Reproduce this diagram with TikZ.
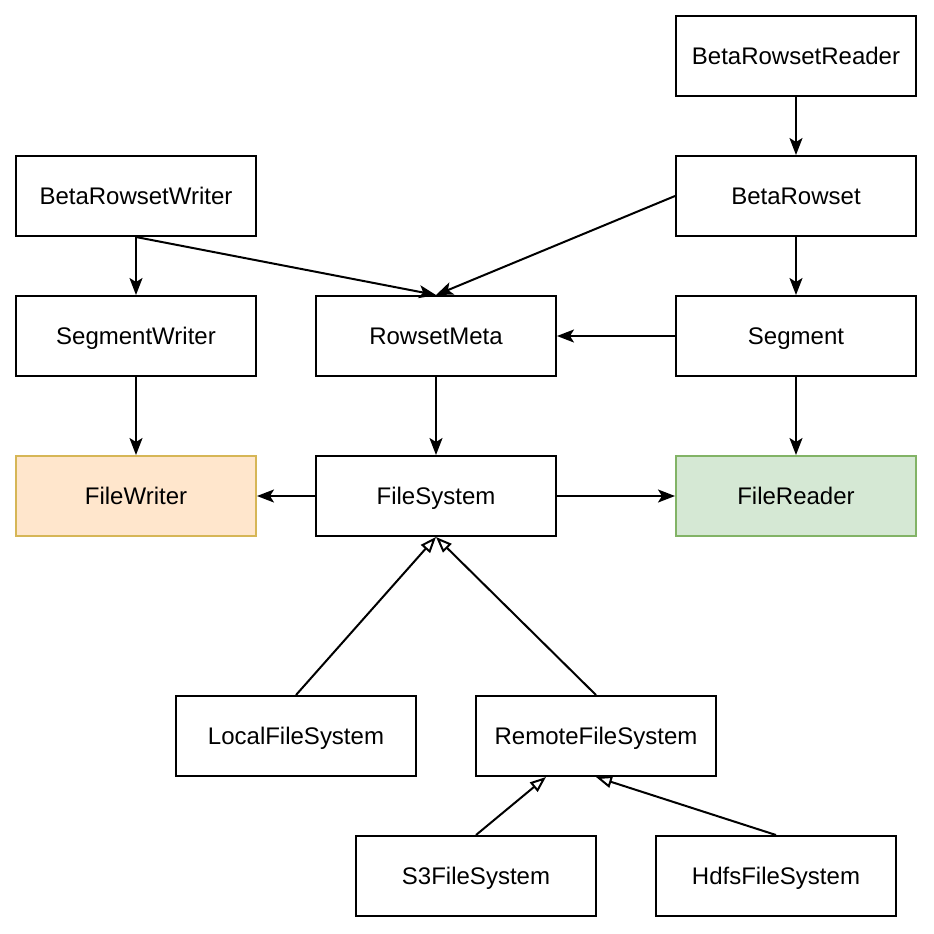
\documentclass[tikz,border=0pt]{standalone}
\usepackage{fontspec}
\setmainfont{Liberation Sans}
\usetikzlibrary{arrows.meta}
\definecolor{writefill}{HTML}{FFE6CC}
\definecolor{writeline}{HTML}{D6B656}
\definecolor{readfill}{HTML}{D5E8D4}
\definecolor{readline}{HTML}{82B366}
\begin{document}
\begin{tikzpicture}[x=0.5pt,y=-0.5pt,line width=1pt,
  every node/.style={font=\fontsize{12}{14}\selectfont},
  cls/.style={draw,fill=white,minimum width=120pt,minimum height=40pt,inner sep=0pt,
    text height=9.6pt,text depth=1.2pt},
  uses/.style={-{Stealth[length=8.5pt,width=6.5pt,inset=2pt]}},
  extends/.style={-{Triangle[open,length=8pt,width=6pt]}}]
\useasboundingbox (0,0) rectangle (934,934);
% readers and writers
\node[cls] (reader) at (796,56) {BetaRowsetReader};
\node[cls] (writer) at (136,196) {BetaRowsetWriter};
\node[cls] (rowset) at (796,196) {BetaRowset};
\node[cls] (segwriter) at (136,336) {SegmentWriter};
\node[cls] (meta) at (436,336) {RowsetMeta};
\node[cls] (segment) at (796,336) {Segment};
% file layer
\node[cls,fill=writefill,draw=writeline] (fwriter) at (136,496) {FileWriter};
\node[cls] (fs) at (436,496) {FileSystem};
\node[cls,fill=readfill,draw=readline] (freader) at (796,496) {FileReader};
\node[cls] (localfs) at (296,736) {LocalFileSystem};
\node[cls] (remotefs) at (596,736) {RemoteFileSystem};
\node[cls] (s3fs) at (476,876) {S3FileSystem};
\node[cls] (hdfs) at (776,876) {HdfsFileSystem};
% dependencies
\draw[uses] (reader) -- (rowset);
\draw[uses] (writer) -- (segwriter);
\draw[uses] (writer.south) -- (meta.north);
\draw[uses] (rowset.west) -- (meta.north);
\draw[uses] (rowset) -- (segment);
\draw[uses] (segment) -- (meta);
\draw[uses] (segwriter) -- (fwriter);
\draw[uses] (meta) -- (fs);
\draw[uses] (segment) -- (freader);
\draw[uses] (fs) -- (fwriter);
\draw[uses] (fs) -- (freader);
% inheritance
\draw[extends] (localfs.north) -- (fs.south);
\draw[extends] (remotefs.north) -- (fs.south);
\draw[extends] (s3fs.north) -- ([xshift=-25pt]remotefs.south);
\draw[extends] (hdfs.north) -- (remotefs.south);
\end{tikzpicture}
\end{document}
